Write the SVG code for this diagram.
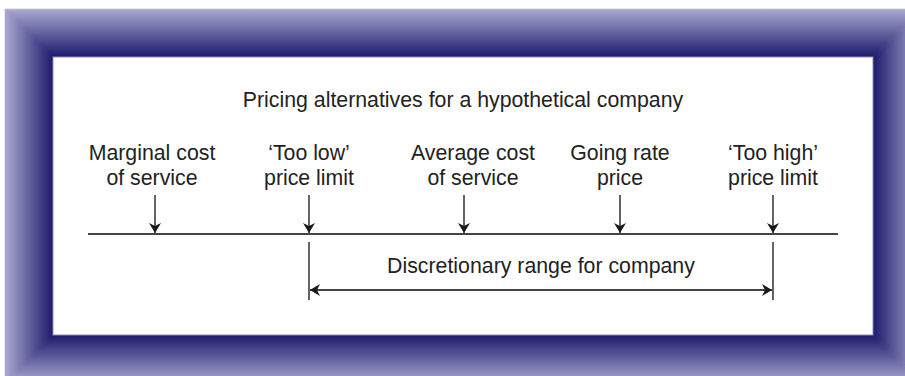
<svg xmlns="http://www.w3.org/2000/svg" width="905" height="376" viewBox="0 0 905 376">
<defs>
<linearGradient id="gTop" x1="0" y1="9" x2="0" y2="57" gradientUnits="userSpaceOnUse"><stop offset="0" stop-color="#aba9d1"/><stop offset="1" stop-color="#1d1a6c"/></linearGradient>
<linearGradient id="gBot" x1="0" y1="383" x2="0" y2="335" gradientUnits="userSpaceOnUse"><stop offset="0" stop-color="#aba9d1"/><stop offset="1" stop-color="#1d1a6c"/></linearGradient>
<linearGradient id="gLeft" x1="5" y1="0" x2="53" y2="0" gradientUnits="userSpaceOnUse"><stop offset="0" stop-color="#aba9d1"/><stop offset="1" stop-color="#1d1a6c"/></linearGradient>
<linearGradient id="gRight" x1="921" y1="0" x2="873" y2="0" gradientUnits="userSpaceOnUse"><stop offset="0" stop-color="#aba9d1"/><stop offset="1" stop-color="#1d1a6c"/></linearGradient>
<marker id="ah" viewBox="0 0 10 12" refX="10" refY="6" markerWidth="10" markerHeight="12" markerUnits="userSpaceOnUse" orient="auto"><path d="M0,0 L10,6 L0,12 L3,6 Z" fill="#1a1a1a"/></marker>
<marker id="ahs" viewBox="0 0 10 12" refX="0" refY="6" markerWidth="10" markerHeight="12" markerUnits="userSpaceOnUse" orient="auto"><path d="M10,0 L0,6 L10,12 L7,6 Z" fill="#1a1a1a"/></marker>
</defs>
<style>
text{font-family:"Liberation Sans",Arial,sans-serif;font-size:21.3px;fill:#222;text-anchor:middle}
.ln{stroke:#222;stroke-width:1.4;fill:none}
.ax{stroke:#444;stroke-width:1.8;fill:none}
</style>
<g id="frame">
<polygon points="5,9 921,9 873,57 53,57" fill="url(#gTop)" stroke="url(#gTop)" stroke-width="0.6"/>
<polygon points="5,383 53,335 873,335 921,383" fill="url(#gBot)" stroke="url(#gBot)" stroke-width="0.6"/>
<polygon points="5,9 53,57 53,335 5,383" fill="url(#gLeft)" stroke="url(#gLeft)" stroke-width="0.6"/>
<polygon points="921,9 873,57 873,335 921,383" fill="url(#gRight)" stroke="url(#gRight)" stroke-width="0.6"/>
<line x1="5" y1="9.5" x2="905" y2="9.5" stroke="#b8b8c8" stroke-width="1"/>
<rect x="53" y="57" width="820" height="278" fill="#ffffff" stroke="#8c89c4" stroke-width="1"/>
</g>
<g id="title"><text x="463" y="107">Pricing alternatives for a hypothetical company</text></g>
<g id="marginal"><text x="152" y="160">Marginal cost</text><text x="152" y="185">of service</text></g>
<g id="toolow"><text x="309" y="160">‘Too low’</text><text x="309" y="185">price limit</text></g>
<g id="average"><text x="473" y="160">Average cost</text><text x="473" y="185">of service</text></g>
<g id="going"><text x="620" y="160">Going rate</text><text x="620" y="185">price</text></g>
<g id="toohigh"><text x="773" y="160">‘Too high’</text><text x="773" y="185">price limit</text></g>
<g id="range"><text x="541" y="273">Discretionary range for company</text></g>
<g id="connectors">
<line class="ax" x1="88" y1="234" x2="838" y2="234"/>
<line class="ln" x1="155" y1="195" x2="155" y2="233" marker-end="url(#ah)"/>
<line class="ln" x1="309" y1="195" x2="309" y2="233" marker-end="url(#ah)"/>
<line class="ln" x1="464" y1="195" x2="464" y2="233" marker-end="url(#ah)"/>
<line class="ln" x1="620" y1="195" x2="620" y2="233" marker-end="url(#ah)"/>
<line class="ln" x1="773" y1="195" x2="773" y2="233" marker-end="url(#ah)"/>
<line class="ln" x1="309" y1="242" x2="309" y2="300"/>
<line class="ln" x1="773" y1="242" x2="773" y2="300"/>
<line class="ax" x1="310" y1="290" x2="772" y2="290" marker-start="url(#ahs)" marker-end="url(#ah)"/>
</g>
</svg>
